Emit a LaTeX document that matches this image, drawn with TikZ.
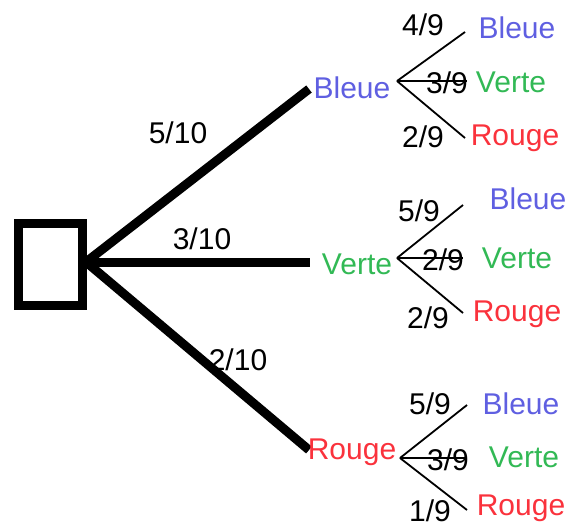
\documentclass[tikz,border=0pt]{standalone}
\usepackage{fontspec}
\setmainfont{Liberation Sans}
\definecolor{cblue}{RGB}{95,95,225}
\definecolor{cgreen}{RGB}{50,185,85}
\definecolor{cred}{RGB}{250,50,60}
\tikzset{
  lbl/.style={inner sep=0pt, font=\fontsize{15}{18}\selectfont},
  bl/.style={lbl, text=cblue},
  gr/.style={lbl, text=cgreen},
  rd/.style={lbl, text=cred},
  fr/.style={lbl, text=black},
  thick branch/.style={line width=4.5pt},
  thin branch/.style={line width=0.9pt},
}
\begin{document}
\begin{tikzpicture}[x=0.5pt,y=-0.5pt]
\useasboundingbox (0,0) rectangle (577,526);
% root box
\node[draw, line width=4.5pt, minimum width=32pt, minimum height=41pt, inner sep=0pt] (box) at (50.5,264.5) {};
\coordinate (root) at (86,262);
% level 1 ends
\coordinate (e1) at (309,89);
\coordinate (e2) at (310,262);
\coordinate (e3) at (309,450);
\draw[thick branch] (root) -- (e1);
\draw[thick branch] (root) -- (e2);
\draw[thick branch] (root) -- (e3);
\node[fr] (f1) at (178,133) {5/10};
\node[fr] (f2) at (202,239) {3/10};
\node[fr] (f3) at (238,360) {2/10};
% level 1 labels
\node[bl] (B) at (352,88) {Bleue};
\node[gr] (V) at (357,264) {Verte};
\node[rd] (R) at (352,452) {Rouge};
% sub tree Bleue
\coordinate (Bo) at (397,81);
\coordinate (Bt) at (465,32);
\coordinate (Bm) at (467,81);
\coordinate (Bb) at (465,138);
\draw[thin branch] (Bo) -- (Bt);
\draw[thin branch] (Bo) -- (Bm);
\draw[thin branch] (Bo) -- (Bb);
\node[fr] (Bf1) at (423,25) {4/9};
\node[fr] (Bf2) at (447,83) {3/9};
\node[fr] (Bf3) at (423,137) {2/9};
\node[bl] (BB) at (517,28) {Bleue};
\node[gr] (BV) at (511,82) {Verte};
\node[rd] (BR) at (515,138) {Rouge};
% sub tree Verte
\coordinate (Vo) at (397,258);
\coordinate (Vt) at (463,205);
\coordinate (Vm) at (463,258);
\coordinate (Vb) at (463,313);
\draw[thin branch] (Vo) -- (Vt);
\draw[thin branch] (Vo) -- (Vm);
\draw[thin branch] (Vo) -- (Vb);
\node[fr] (Vf1) at (419,211) {5/9};
\node[fr] (Vf2) at (443,260) {2/9};
\node[fr] (Vf3) at (428,318) {2/9};
\node[bl] (VB) at (528,199) {Bleue};
\node[gr] (VV) at (517,258) {Verte};
\node[rd] (VR) at (517,314) {Rouge};
% sub tree Rouge
\coordinate (Ro) at (400,458);
\coordinate (Rt) at (467,405);
\coordinate (Rm) at (467,458);
\coordinate (Rb) at (467,510);
\draw[thin branch] (Ro) -- (Rt);
\draw[thin branch] (Ro) -- (Rm);
\draw[thin branch] (Ro) -- (Rb);
\node[fr] (Rf1) at (430,404) {5/9};
\node[fr] (Rf2) at (448,460) {3/9};
\node[fr] (Rf3) at (430,511) {1/9};
\node[bl] (RB) at (521,404) {Bleue};
\node[gr] (RV) at (524,457) {Verte};
\node[rd] (RR) at (521,508) {Rouge};
\end{tikzpicture}
\end{document}
